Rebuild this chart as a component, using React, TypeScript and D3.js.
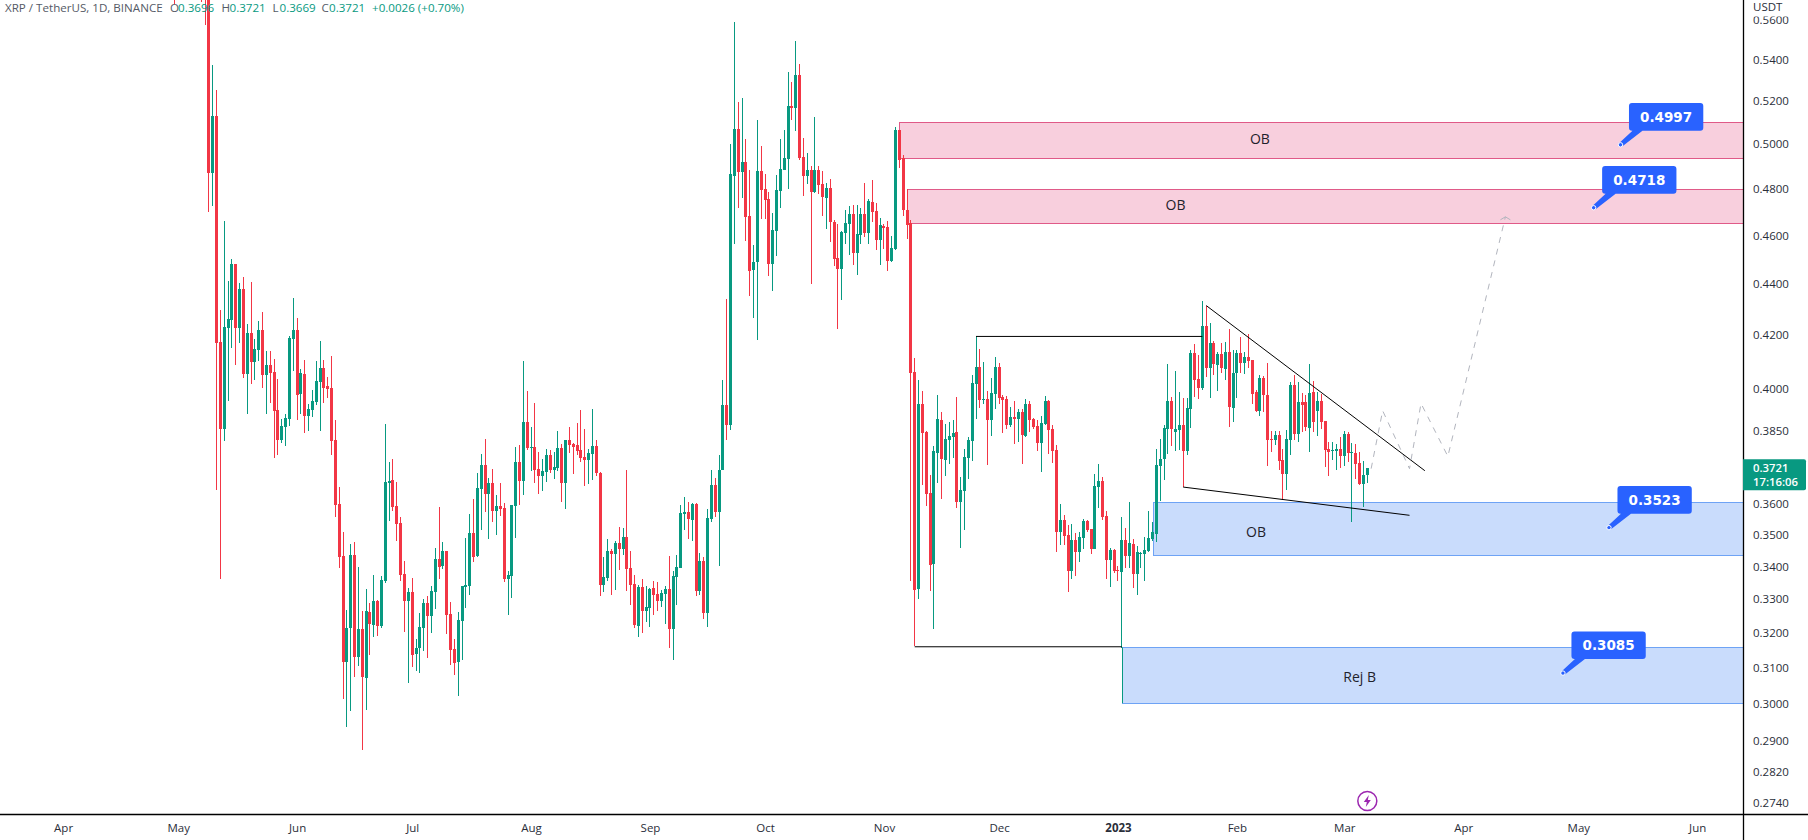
import * as React from 'react';
import * as d3 from 'd3';

const firstDay = '2022-04-30';

const opens = [
  .6010,.5820,.6050,.6090,.5980,.6520,.6050,.6020,.5880,
  .5760,.4870,.5130,.4173,.3854,.4227,.4258,.4482,.4227,.4380,
  .4053,.4208,.4098,.4143,.4219,.4049,.4086,.4061,.3922,.3816,
  .3861,.3890,.4185,.4219,.3980,.4053,.3900,.3922,.3951,.4024,
  .4075,.4009,.4001,.3816,.3600,.3432,.3116,.3214,.3435,.3130,
  .3211,.3071,.3261,.3223,.3294,.3220,.3355,.3669,.3679,.3593,
  .3537,.3376,.3294,.3322,.3139,.3156,.3214,.3288,.3249,.3322,
  .3423,.3401,.3448,.3255,.3153,.3116,.3235,.3337,.3340,.3505,
  .3432,.3649,.3730,.3633,.3669,.3577,.3593,.3587,.3361,.3370,
  .3593,.3740,.3676,.3879,.3788,.3791,.3716,.3693,.3706,.3764,
  .3713,.3720,.3788,.3669,.3816,.3802,.3798,.3781,.3757,.3747,
  .3767,.3795,.3703,.3343,.3364,.3448,.3438,.3473,.3454,.3493,
  .3395,.3346,.3220,.3337,.3264,.3273,.3334,.3316,.3294,.3316,
  .3331,.3211,.3367,.3395,.3567,.3573,.3547,.3600,.3325,.3417,
  .3258,.3550,.3663,.3573,.3713,.3940,.3868,.4857,.5070,.4874,
  .4919,.4682,.4457,.4490,.4879,.4799,.4755,.4482,.4619,.4790,
  .4883,.4933,.5177,.5167,.5326,.4942,.4857,.4883,.4786,.4883,
  .4821,.4760,.4803,.4656,.4506,.4461,.4610,.4648,.4691,.4527,
  .4602,.4691,.4610,.4743,.4704,.4581,.4640,.4636,.4494,.4543,
  .5065,.4937,.4708,.4652,.4061,.3331,.3944,.3844,.3636,.3407,
  .3771,.3886,.3747,.3816,.3826,.3844,.3606,.3643,.3754,.3813,
  .4016,.4079,.3958,.3962,.3886,.3980,.4079,.3969,.3962,.3868,
  .3897,.3890,.3915,.3830,.3944,.3890,.3865,.3806,.3872,.3954,
  .3854,.3781,.3509,.3547,.3499,.3386,.3483,.3445,.3490,.3544,
  .3518,.3454,.3656,.3676,.3560,.3420,.3451,.3389,.3383,.3483,
  .3432,.3470,.3376,.3438,.3438,.3448,.3486,.3502,.3726,.3750,
  .3854,.3954,.3844,.3851,.3868,.3778,.3926,.4132,.4035,.4001,
  .4235,.4075,.4170,.4086,.4128,.4072,.4136,.3929,.4057,.4132,
  .4094,.4116,.4105,.3987,.3918,.4038,.3976,.3819,.3816,.3833,
  .3747,.3700,.3816,.4012,.3837,.3951,.3951,.3858,.3987,.3918,
  .3954,.3883,.3784,.3778,.3778,.3784,.3760,.3837,.3771,.3771,
  .3736,.3666,.3696,
];

const highs = [
  .6160,.6150,.6200,.6120,.6660,.6570,.6100,.6070,.5920,
  .5790,.5375,.5253,.4297,.4661,.4413,.4502,.4482,.4405,.4429,
  .4242,.4409,.4185,.4254,.4289,.4139,.4139,.4109,.4035,.3890,
  .3908,.4196,.4345,.4266,.4072,.4105,.3944,.3994,.4101,.4177,
  .4105,.4042,.4120,.3886,.3656,.3509,.3267,.3470,.3477,.3398,
  .3264,.3331,.3288,.3373,.3297,.3370,.3872,.3740,.3750,.3672,
  .3557,.3417,.3334,.3364,.3182,.3258,.3300,.3309,.3340,.3457,
  .3590,.3477,.3448,.3291,.3182,.3261,.3340,.3490,.3567,.3616,
  .3703,.3767,.3819,.3686,.3716,.3629,.3669,.3603,.3386,.3596,
  .3791,.3798,.4101,.3990,.3861,.3947,.3774,.3750,.3784,.3781,
  .3774,.3847,.3802,.3816,.3861,.3806,.3875,.3922,.3854,.3784,
  .3926,.3816,.3706,.3429,.3486,.3454,.3480,.3525,.3521,.3713,
  .3448,.3373,.3343,.3361,.3340,.3334,.3355,.3352,.3328,.3340,
  .3432,.3386,.3435,.3596,.3623,.3606,.3603,.3603,.3442,.3429,
  .3583,.3713,.3686,.3764,.4031,.4341,.5001,.5590,.5197,.5215,
  .5024,.4883,.4560,.5111,.4991,.4865,.4786,.4695,.4861,.5024,
  .5065,.5340,.5292,.5494,.5379,.5028,.4960,.4901,.5125,.4901,
  .4879,.4825,.4843,.4665,.4648,.4619,.4708,.4725,.4730,.4730,
  .4717,.4825,.4755,.4839,.4738,.4674,.4648,.4661,.4598,.5079,
  .5065,.4951,.4799,.4665,.4113,.4031,.3990,.3847,.3696,.3795,
  .3976,.3915,.3872,.3879,.3886,.3969,.3689,.3784,.3826,.4049,
  .4196,.4147,.4098,.3990,.4038,.4116,.4094,.3976,.3973,.3933,
  .3954,.3926,.3926,.3962,.3954,.3893,.3886,.3900,.3973,.3958,
  .3868,.3798,.3600,.3564,.3531,.3534,.3505,.3509,.3550,.3547,
  .3518,.3700,.3733,.3689,.3577,.3457,.3454,.3401,.3557,.3521,
  .3606,.3486,.3464,.3445,.3493,.3577,.3541,.3784,.3819,.3868,
  .4090,.3969,.4064,.3987,.3965,.3965,.4143,.4166,.4124,.4333,
  .4313,.4247,.4177,.4136,.4170,.4173,.4223,.4143,.4143,.4192,
  .4136,.4204,.4105,.3994,.4049,.4046,.4094,.3847,.3847,.3847,
  .3784,.3851,.4024,.4049,.4024,.3983,.3976,.4090,.4027,.3987,
  .3980,.3883,.3809,.3809,.3802,.3826,.3847,.3844,.3806,.3802,
  .3774,.3743,.3721,
];

const lows = [
  .5682,.5760,.5950,.5920,.5960,.5950,.5770,.5692,.5575,
  .4699,.4725,.3646,.3361,.3813,.3954,.4151,.4086,.4170,.4038,
  .3908,.4016,.4031,.4101,.4001,.3908,.3947,.3754,.3764,.3806,
  .3795,.3865,.4064,.3886,.3908,.3840,.3847,.3897,.3940,.3847,
  .3947,.3965,.3764,.3557,.3395,.3013,.2937,.2980,.3073,.3105,
  .2876,.2983,.3136,.3188,.3191,.3214,.3349,.3544,.3577,.3480,
  .3355,.3202,.3057,.3102,.3090,.3085,.3147,.3128,.3199,.3270,
  .3361,.3392,.3196,.3107,.3079,.3021,.3122,.3273,.3312,.3414,
  .3429,.3515,.3573,.3486,.3541,.3499,.3560,.3352,.3252,.3303,
  .3490,.3596,.3629,.3781,.3710,.3669,.3633,.3643,.3672,.3703,
  .3682,.3710,.3606,.3583,.3771,.3700,.3764,.3740,.3659,.3666,
  .3679,.3693,.3309,.3322,.3355,.3312,.3328,.3389,.3435,.3325,
  .3282,.3214,.3188,.3199,.3232,.3217,.3252,.3264,.3276,.3226,
  .3156,.3122,.3282,.3395,.3515,.3486,.3480,.3309,.3312,.3241,
  .3217,.3541,.3557,.3401,.3774,.3816,.3851,.4564,.4717,.4760,
  .4577,.4352,.4266,.4181,.4669,.4669,.4433,.4372,.4514,.4717,
  .4883,.4799,.5111,.5060,.4928,.4769,.4821,.4401,.4782,.4777,
  .4682,.4627,.4572,.4473,.4223,.4337,.4564,.4519,.4477,.4437,
  .4564,.4594,.4564,.4656,.4539,.4477,.4543,.4453,.4490,.4539,
  .4892,.4682,.4585,.3355,.3162,.3300,.3663,.3593,.3325,.3211,
  .3669,.3616,.3693,.3733,.3754,.3587,.3457,.3515,.3682,.3743,
  .3890,.3929,.3944,.3730,.3830,.3926,.3944,.3840,.3854,.3861,
  .3802,.3809,.3733,.3826,.3844,.3854,.3778,.3706,.3868,.3767,
  .3736,.3445,.3467,.3467,.3322,.3361,.3370,.3414,.3454,.3509,
  .3438,.3454,.3587,.3547,.3361,.3337,.3380,.3355,.3156,.3395,
  .3395,.3334,.3312,.3395,.3355,.3445,.3480,.3477,.3610,.3679,
  .3767,.3795,.3778,.3781,.3656,.3764,.3858,.3969,.3962,.3994,
  .4042,.3965,.4049,.3990,.4057,.4031,.3861,.3879,.3965,.4057,
  .4053,.4075,.3944,.3915,.3900,.3915,.3726,.3774,.3798,.3713,
  .3613,.3646,.3764,.3816,.3809,.3844,.3847,.3774,.3844,.3830,
  .3854,.3723,.3693,.3747,.3713,.3720,.3726,.3740,.3541,.3682,
  .3663,.3590,.3669,
];

const closes = [
  .5820,.6050,.6090,.5980,.6520,.6050,.6020,.5880,.5760,
  .4870,.5130,.4170,.3854,.4231,.4262,.4482,.4227,.4380,.4053,
  .4208,.4098,.4147,.4219,.4049,.4086,.4057,.3918,.3816,.3865,
  .3893,.4189,.4219,.3976,.4057,.3900,.3926,.3954,.4027,.4075,
  .4001,.3998,.3813,.3596,.3429,.3116,.3214,.3435,.3130,.3211,
  .3073,.3264,.3226,.3294,.3220,.3358,.3672,.3676,.3590,.3534,
  .3373,.3294,.3322,.3136,.3156,.3217,.3288,.3249,.3325,.3423,
  .3398,.3448,.3252,.3150,.3113,.3238,.3340,.3343,.3505,.3429,
  .3653,.3730,.3633,.3669,.3577,.3593,.3583,.3361,.3373,.3596,
  .3740,.3676,.3879,.3788,.3791,.3713,.3693,.3710,.3764,.3713,
  .3723,.3788,.3669,.3816,.3798,.3791,.3778,.3754,.3747,.3771,
  .3795,.3703,.3343,.3367,.3448,.3438,.3473,.3454,.3493,.3392,
  .3343,.3223,.3337,.3264,.3276,.3331,.3312,.3294,.3319,.3331,
  .3211,.3370,.3398,.3570,.3573,.3550,.3600,.3325,.3417,.3258,
  .3554,.3663,.3573,.3713,.3940,.3868,.4865,.5070,.4874,.4919,
  .4678,.4453,.4490,.4879,.4795,.4751,.4482,.4623,.4795,.4888,
  .4937,.5177,.5167,.5326,.4937,.4857,.4883,.4786,.4883,.4817,
  .4764,.4803,.4656,.4502,.4461,.4614,.4652,.4691,.4527,.4606,
  .4691,.4610,.4747,.4699,.4581,.4644,.4631,.4494,.4547,.5065,
  .4928,.4708,.4644,.4057,.3328,.3944,.3840,.3633,.3404,.3778,
  .3890,.3750,.3819,.3830,.3840,.3606,.3646,.3757,.3816,.4020,
  .4079,.3958,.3962,.3886,.3983,.4079,.3965,.3958,.3868,.3897,
  .3890,.3915,.3833,.3944,.3886,.3861,.3806,.3875,.3954,.3851,
  .3778,.3509,.3547,.3496,.3386,.3483,.3445,.3493,.3544,.3515,
  .3454,.3659,.3676,.3557,.3420,.3451,.3386,.3386,.3483,.3432,
  .3473,.3376,.3445,.3442,.3451,.3490,.3509,.3730,.3750,.3858,
  .3954,.3854,.3854,.3868,.3778,.3929,.4132,.4031,.4001,.4235,
  .4075,.4170,.4090,.4128,.4075,.4136,.3933,.4057,.4132,.4094,
  .4116,.4101,.3980,.3918,.4038,.3976,.3816,.3816,.3833,.3743,
  .3700,.3819,.4012,.3837,.3951,.3940,.3861,.3983,.3879,.3954,
  .3879,.3781,.3774,.3781,.3784,.3760,.3837,.3771,.3774,.3733,
  .3666,.3696,.3721,
];

const priceTicks = [.56, .54, .52, .50, .48, .46, .44, .42, .40, .385, .36, .35, .34, .33, .32, .31, .30, .29, .282, .274];
const monthTicks = ['2022-04-01', '2022-05-01', '2022-06-01', '2022-07-01', '2022-08-01', '2022-09-01', '2022-10-01', '2022-11-01', '2022-12-01', '2023-01-01', '2023-02-01', '2023-03-01', '2023-04-01', '2023-05-01', '2023-06-01'];

// supply / demand zones
const zoneStarts = ['2022-11-05', '2022-11-07', '2023-01-10', '2023-01-02'];
const zoneTops = [.5100, .4798, .3605, .3158];
const zoneBottoms = [.4935, .4651, .3435, .3003];
const zoneNames = ['OB', 'OB', 'OB', 'Rej B'];
const zoneNameDays = ['2023-02-07', '2023-01-16', '2023-02-06', '2023-03-05'];
const zoneNamePrices = [.5021, .4728, .3510, .3074];
const zoneKinds = ['pink', 'pink', 'blue', 'blue'];

const calloutDays = ['2023-05-12', '2023-05-05', '2023-05-09', '2023-04-27'];
const calloutPrices = [.4997, .4718, .3523, .3085];

const pathDays = ['2023-03-08', '2023-03-11', '2023-03-18', '2023-03-21', '2023-03-28', '2023-04-12'];
const pathPrices = [.3718, .3920, .3718, .3946, .3760, .4679];

const segments: [string, number, string, number][] = [
  ['2022-11-25', .4195, '2023-01-23', .4195],
  ['2022-11-09', .3160, '2023-01-02', .3160],
  ['2023-01-24', .4315, '2023-03-22', .3711],
  ['2023-01-18', .3656, '2023-03-18', .3563],
];

const changeText = '+0.0026 (+0.70%)';

const UP = '#089981';
const DOWN = '#F23645';
const FONT = '"Open Sans", sans-serif';

const day = (s: string) => new Date(s + 'T00:00:00Z');

export default function App() {
  const ref = React.useRef<SVGSVGElement | null>(null);

  React.useEffect(() => {
    if (!ref.current) return;
    const svg = d3.select(ref.current);
    svg.selectAll('*').remove();

    const right = 1743;
    const bottom = 814;

    const x = d3.scaleUtc().domain([day('2022-04-01'), day('2023-06-01')]).range([63.1, 1697.2]);
    const y = d3.scaleLog().domain([.56, .274]).range([20, 803]);

    const start = day(firstDay);
    const candles = opens.map((o, i) => ({
      date: d3.utcDay.offset(start, i),
      o, h: highs[i], l: lows[i], c: closes[i],
    }));

    svg.append('defs').append('clipPath').attr('id', 'plot')
      .append('rect').attr('width', right).attr('height', bottom);
    const plot = svg.append('g').attr('clip-path', 'url(#plot)');

    // zones go under the candles
    zoneStarts.forEach((s, i) => {
      const pink = zoneKinds[i] === 'pink';
      plot.append('rect')
        .attr('x', Math.round(x(day(s))) + .5)
        .attr('y', Math.round(y(zoneTops[i])) + .5)
        .attr('width', right - x(day(s)) + 5)
        .attr('height', Math.round(y(zoneBottoms[i])) - Math.round(y(zoneTops[i])))
        .attr('fill', pink ? '#f8cfdd' : '#c9dcfc')
        .attr('stroke', pink ? '#e05a88' : '#6ea3f5')
        .attr('stroke-width', 1);
    });
    plot.append('line')
      .attr('x1', Math.round(x(day('2023-01-02'))) + .5).attr('x2', Math.round(x(day('2023-01-02'))) + .5)
      .attr('y1', y(.3158)).attr('y2', y(.3003) + .5)
      .attr('stroke', UP);

    const bars = plot.append('g').attr('shape-rendering', 'crispEdges');
    candles.forEach(d => {
      const px = Math.floor(x(d.date));
      const color = d.c >= d.o ? UP : DOWN;
      const top = y(Math.max(d.o, d.c));
      const bot = y(Math.min(d.o, d.c));
      bars.append('rect').attr('x', px).attr('width', 1)
        .attr('y', y(d.h)).attr('height', y(d.l) - y(d.h)).attr('fill', color);
      bars.append('rect').attr('x', px - 1).attr('width', 3)
        .attr('y', top).attr('height', Math.max(1, bot - top)).attr('fill', color);
    });

    // black drawings
    segments.forEach(([d1, p1, d2, p2]) => {
      plot.append('line')
        .attr('x1', x(day(d1))).attr('y1', y(p1))
        .attr('x2', x(day(d2))).attr('y2', y(p2))
        .attr('stroke', '#000').attr('stroke-width', 1);
    });

    const line = d3.line<number>()
      .x(i => x(day(pathDays[i])))
      .y(i => y(pathPrices[i]));
    plot.append('path')
      .attr('d', line(d3.range(pathDays.length)) as string)
      .attr('fill', 'none')
      .attr('stroke', '#b2b5be')
      .attr('stroke-dasharray', '6 6');
    const tipX = x(day(pathDays[pathDays.length - 1]));
    const tipY = y(pathPrices[pathPrices.length - 1]);
    plot.append('path')
      .attr('d', `M${tipX - 5},${tipY + 3}L${tipX},${tipY}L${tipX + 5},${tipY + 3}`)
      .attr('fill', 'none').attr('stroke', '#b2b5be');

    zoneNames.forEach((name, i) => {
      plot.append('text')
        .attr('x', x(day(zoneNameDays[i])))
        .attr('y', y(zoneNamePrices[i]))
        .attr('dy', '.35em')
        .attr('text-anchor', 'middle')
        .attr('font-family', FONT)
        .attr('font-size', 14)
        .attr('fill', '#1f222b')
        .text(name);
    });

    // price callouts
    calloutDays.forEach((s, i) => {
      const mx = x(day(s));
      const my = y(calloutPrices[i]);
      const l = mx + 8.5, r = l + 74.3, b = my - 14, t = b - 27.7, k = 3;
      plot.append('path')
        .attr('d', `M${l + k},${t}H${r - k}Q${r},${t} ${r},${t + k}V${b - k}Q${r},${b} ${r - k},${b}H${l + 13.5}L${mx + 2},${my + 1.5}L${mx - 1.5},${my - 1.5}L${l + 3.5},${b}H${l + k}Q${l},${b} ${l},${b - k}V${t + k}Q${l},${t} ${l + k},${t}Z`)
        .attr('fill', '#2962ff');
      plot.append('circle').attr('cx', mx).attr('cy', my).attr('r', 2.2)
        .attr('fill', '#2962ff').attr('stroke', '#fff').attr('stroke-width', 1);
      plot.append('text')
        .attr('x', (l + r) / 2).attr('y', (t + b) / 2).attr('dy', '.36em')
        .attr('text-anchor', 'middle')
        .attr('font-family', '"DejaVu Sans", sans-serif')
        .attr('font-weight', 700).attr('font-size', 13.5)
        .attr('fill', '#fff')
        .text(calloutPrices[i].toFixed(4));
    });

    // lightning marker
    const bolt = svg.append('g')
      .attr('transform', `translate(${x(day('2023-03-07'))},801)`);
    bolt.append('circle').attr('r', 9.5).attr('fill', '#fff').attr('stroke', '#9c27b0').attr('stroke-width', 1.5);
    bolt.append('path').attr('d', 'M1.5,-6L-3.5,1H-.5L-1.5,6L3.5,-1H.5Z').attr('fill', '#9c27b0');

    // axes
    const yAxis = d3.axisRight(y)
      .tickValues(priceTicks)
      .tickSize(0)
      .tickPadding(10)
      .tickFormat(d => (+d).toFixed(4));
    const yg = svg.append('g').attr('transform', `translate(${right},0)`).call(yAxis as any);
    yg.select('.domain').remove();
    yg.selectAll('text').attr('font-family', FONT).attr('font-size', 11.5).attr('fill', '#2a2e39');

    const xAxis = d3.axisBottom(x)
      .tickValues(monthTicks.map(day))
      .tickSize(0)
      .tickPadding(10)
      .tickFormat(d => {
        const dt = d as Date;
        return dt.getUTCMonth() === 0 ? d3.utcFormat('%Y')(dt) : d3.utcFormat('%b')(dt);
      });
    const xg = svg.append('g').attr('transform', `translate(0,${bottom})`).call(xAxis as any);
    xg.select('.domain').remove();
    xg.selectAll('text').attr('font-family', FONT).attr('font-size', 11.5).attr('fill', '#2a2e39')
      .attr('font-weight', (d: any) => (d.getUTCMonth() === 0 ? 700 : 400));

    svg.append('rect').attr('x', right + 1).attr('y', 0).attr('width', 64).attr('height', 16.5).attr('fill', '#fff');
    svg.append('text').attr('x', right + 10).attr('y', 7).attr('dy', '.35em')
      .attr('font-family', FONT).attr('font-size', 11.5).attr('fill', '#2a2e39').text('USDT');

    svg.append('line').attr('x1', right + .5).attr('x2', right + .5).attr('y1', 0).attr('y2', 840)
      .attr('stroke', '#000').attr('stroke-width', 1.3);
    svg.append('line').attr('x1', 0).attr('x2', 1808).attr('y1', bottom + .5).attr('y2', bottom + .5)
      .attr('stroke', '#000').attr('stroke-width', 1.3);

    // last price tag
    const lastClose = closes[closes.length - 1];
    const tagY = y(lastClose);
    svg.append('path')
      .attr('d', `M${right},${tagY - 8.5}H1804Q1806,${tagY - 8.5} 1806,${tagY - 6.5}V${tagY + 20.5}Q1806,${tagY + 22.5} 1804,${tagY + 22.5}H${right}Z`)
      .attr('fill', UP);
    svg.append('text').attr('x', right + 10).attr('y', tagY).attr('dy', '.36em')
      .attr('font-family', FONT).attr('font-weight', 600).attr('font-size', 11.3).attr('fill', '#fff').text(lastClose.toFixed(4));
    svg.append('text').attr('x', right + 10).attr('y', tagY + 14.5).attr('dy', '.36em')
      .attr('font-family', FONT).attr('font-weight', 600).attr('font-size', 11.3).attr('fill', '#fff').text('17:16:06');

    // header legend
    const header = svg.append('text').attr('y', 12).attr('font-family', FONT).attr('font-size', 11.6);
    const lo = opens[opens.length - 1], lh = highs[highs.length - 1], ll = lows[lows.length - 1];
    const parts: [string, string, number][] = [
      ['XRP / TetherUS, 1D, BINANCE', '#555a66', 5],
      ['O', '#555a66', 170],
      [lo.toFixed(4), UP, 178],
      ['H', '#555a66', 221.5],
      [lh.toFixed(4), UP, 229.5],
      ['L', '#555a66', 272.5],
      [ll.toFixed(4), UP, 279.5],
      ['C', '#555a66', 321.5],
      [lastClose.toFixed(4), UP, 329],
      [changeText, UP, 372],
    ];
    parts.forEach(([t, c, px]) => header.append('tspan').attr('x', px).attr('fill', c).text(t));
  }, []);

  return (
    <svg
      ref={ref}
      width={1808}
      height={840}
      viewBox="0 0 1808 840"
      style={{ position: 'fixed', left: 0, top: 0, display: 'block', background: '#fff' }}
    />
  );
}
